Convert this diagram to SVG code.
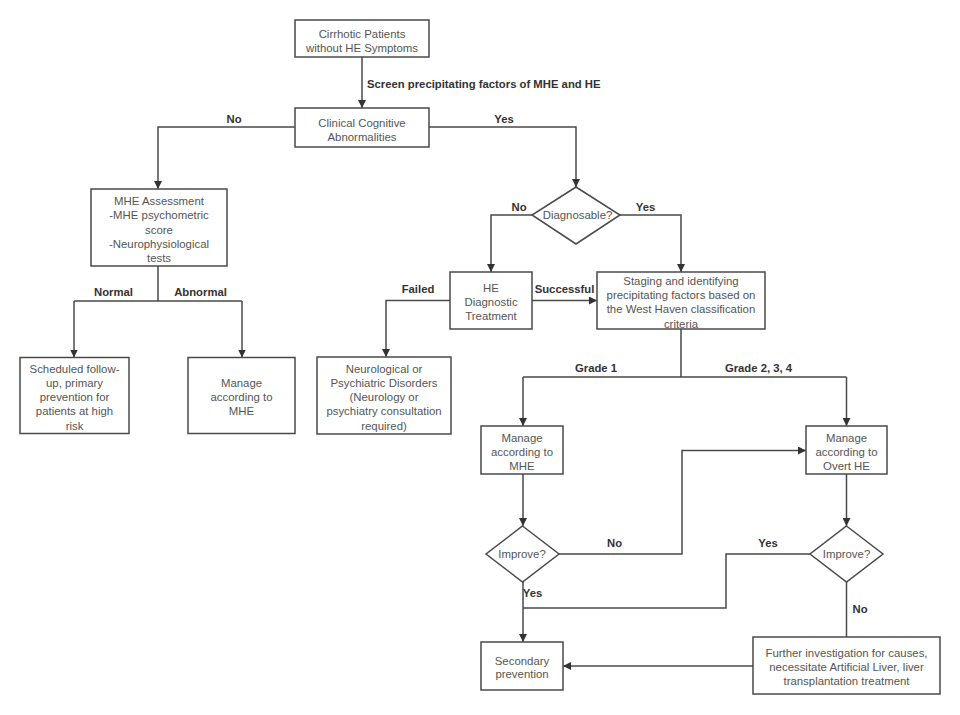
<svg xmlns="http://www.w3.org/2000/svg" width="960" height="715" viewBox="0 0 960 715">
<style>
.box{fill:#fff;stroke:#4a4a4a;stroke-width:1.5}
.t{font-family:"Liberation Sans",Arial,sans-serif;font-size:11.4px;fill:#555;text-anchor:middle}
.l{font-family:"Liberation Sans",Arial,sans-serif;font-size:11.3px;font-weight:bold;fill:#333;text-anchor:middle}
.ls{text-anchor:start}
.c{fill:none;stroke:#4a4a4a;stroke-width:1.5}
</style>
<defs>
<marker id="ah" viewBox="0 0 10 10" refX="10" refY="5" markerWidth="8" markerHeight="8" markerUnits="userSpaceOnUse" orient="auto">
<path d="M0,0 L10,5 L0,10 Z" fill="#333"/>
</marker>
</defs>
<rect width="960" height="715" fill="#fff"/>
<g id="connectors">
<path class="c" d="M362,57 V108" marker-end="url(#ah)"/>
<path class="c" d="M295,127 H158 V189" marker-end="url(#ah)"/>
<path class="c" d="M429,127 H576 V187" marker-end="url(#ah)"/>
<path class="c" d="M532,215 H491 V272" marker-end="url(#ah)"/>
<path class="c" d="M620,215 H681 V272" marker-end="url(#ah)"/>
<path class="c" d="M532,300.5 H597" marker-end="url(#ah)"/>
<path class="c" d="M450,300.5 H386 V357" marker-end="url(#ah)"/>
<path class="c" d="M158,266 V301 M74,301 H242"/>
<path class="c" d="M74,301 V357.5" marker-end="url(#ah)"/>
<path class="c" d="M242,301 V357.5" marker-end="url(#ah)"/>
<path class="c" d="M681,329 V377 M523,377 H846.5"/>
<path class="c" d="M523,377 V426" marker-end="url(#ah)"/>
<path class="c" d="M846.5,377 V426" marker-end="url(#ah)"/>
<path class="c" d="M523,474 V526" marker-end="url(#ah)"/>
<path class="c" d="M559,554 H682 V450.5 H806" marker-end="url(#ah)"/>
<path class="c" d="M846.5,474 V526" marker-end="url(#ah)"/>
<path class="c" d="M810,554 H726 V608 H523"/>
<path class="c" d="M523,582 V642" marker-end="url(#ah)"/>
<path class="c" d="M846.5,582 V637"/>
<path class="c" d="M753,666 H563" marker-end="url(#ah)"/>
<text class="l ls" x="367" y="88">Screen precipitating factors of MHE and HE</text>
<text class="l" x="234" y="123">No</text>
<text class="l" x="504" y="123">Yes</text>
<text class="l" x="519" y="211">No</text>
<text class="l" x="645.5" y="211">Yes</text>
<text class="l" x="564.5" y="293">Successful</text>
<text class="l" x="418" y="293">Failed</text>
<text class="l" x="113.5" y="296">Normal</text>
<text class="l" x="200.5" y="296">Abnormal</text>
<text class="l" x="596" y="372">Grade 1</text>
<text class="l" x="758.5" y="372">Grade 2, 3, 4</text>
<text class="l" x="614.5" y="547">No</text>
<text class="l" x="768" y="547">Yes</text>
<text class="l" x="532.5" y="597">Yes</text>
<text class="l" x="860" y="613">No</text>
</g>
<g id="n-start"><rect class="box" x="295" y="20" width="134" height="37"/>
<text class="t" x="362" y="37.5">Cirrhotic Patients</text><text class="t" x="362" y="51.5">without HE Symptoms</text></g>
<g id="n-clinical"><rect class="box" x="295" y="108" width="134" height="39"/>
<text class="t" x="362" y="126.5">Clinical Cognitive</text><text class="t" x="362" y="140.5">Abnormalities</text></g>
<g id="n-mhe-assess"><rect class="box" x="91" y="189" width="136" height="77"/>
<text class="t" x="159" y="205">MHE Assessment</text>
<text class="t" x="159" y="219.3">-MHE psychometric</text>
<text class="t" x="159" y="233.6">score</text>
<text class="t" x="159" y="247.9">-Neurophysiological</text>
<text class="t" x="159" y="262">tests</text></g>
<g id="n-followup"><rect class="box" x="20" y="357.5" width="109" height="76"/>
<text class="t" x="74.5" y="372.5">Scheduled follow-</text>
<text class="t" x="74.5" y="386.8">up, primary</text>
<text class="t" x="74.5" y="401.1">prevention for</text>
<text class="t" x="74.5" y="415.4">patients at high</text>
<text class="t" x="74.5" y="429.5">risk</text></g>
<g id="n-manage-mhe1"><rect class="box" x="188" y="357.5" width="107" height="76"/>
<text class="t" x="241.5" y="386.8">Manage</text>
<text class="t" x="241.5" y="401.1">according to</text>
<text class="t" x="241.5" y="415.4">MHE</text></g>
<g id="n-diagnosable"><polygon class="box" points="576,187 620,215 576,244 532,215"/>
<text class="t" x="577.5" y="219">Diagnosable?</text></g>
<g id="n-he-diag"><rect class="box" x="450" y="272" width="82" height="57"/>
<text class="t" x="491" y="291.5">HE</text>
<text class="t" x="491" y="305.8">Diagnostic</text>
<text class="t" x="491" y="320">Treatment</text></g>
<g id="n-neuro"><rect class="box" x="317" y="357" width="134" height="77"/>
<text class="t" x="384" y="372.5">Neurological or</text>
<text class="t" x="384" y="386.8">Psychiatric Disorders</text>
<text class="t" x="384" y="401.1">(Neurology or</text>
<text class="t" x="384" y="415.4">psychiatry consultation</text>
<text class="t" x="384" y="429.5">required)</text></g>
<g id="n-staging"><rect class="box" x="597" y="272" width="168" height="57"/>
<text class="t" x="681" y="284.8">Staging and identifying</text>
<text class="t" x="681" y="299.1">precipitating factors based on</text>
<text class="t" x="681" y="313.4">the West Haven classification</text>
<text class="t" x="681" y="327.5">criteria</text></g>
<g id="n-manage-mhe2"><rect class="box" x="481" y="426" width="82" height="48"/>
<text class="t" x="522" y="441.5">Manage</text>
<text class="t" x="522" y="455.8">according to</text>
<text class="t" x="522" y="469.5">MHE</text></g>
<g id="n-overt"><rect class="box" x="806" y="426" width="81" height="48"/>
<text class="t" x="846.5" y="441.5">Manage</text>
<text class="t" x="846.5" y="455.8">according to</text>
<text class="t" x="846.5" y="469.5">Overt HE</text></g>
<g id="n-improve1"><polygon class="box" points="522.5,526 559,554 522.5,582 486,554"/>
<text class="t" x="522" y="558">Improve?</text></g>
<g id="n-improve2"><polygon class="box" points="846.5,526 883,554 846.5,582 810,554"/>
<text class="t" x="846.5" y="558">Improve?</text></g>
<g id="n-secondary"><rect class="box" x="481" y="642" width="82" height="48"/>
<text class="t" x="522" y="664.7">Secondary</text>
<text class="t" x="522" y="678">prevention</text></g>
<g id="n-further"><rect class="box" x="753" y="637" width="187" height="57"/>
<text class="t" x="846.5" y="657.3">Further investigation for causes,</text>
<text class="t" x="846.5" y="671.3">necessitate Artificial Liver, liver</text>
<text class="t" x="846.5" y="685.3">transplantation treatment</text></g>
</svg>
